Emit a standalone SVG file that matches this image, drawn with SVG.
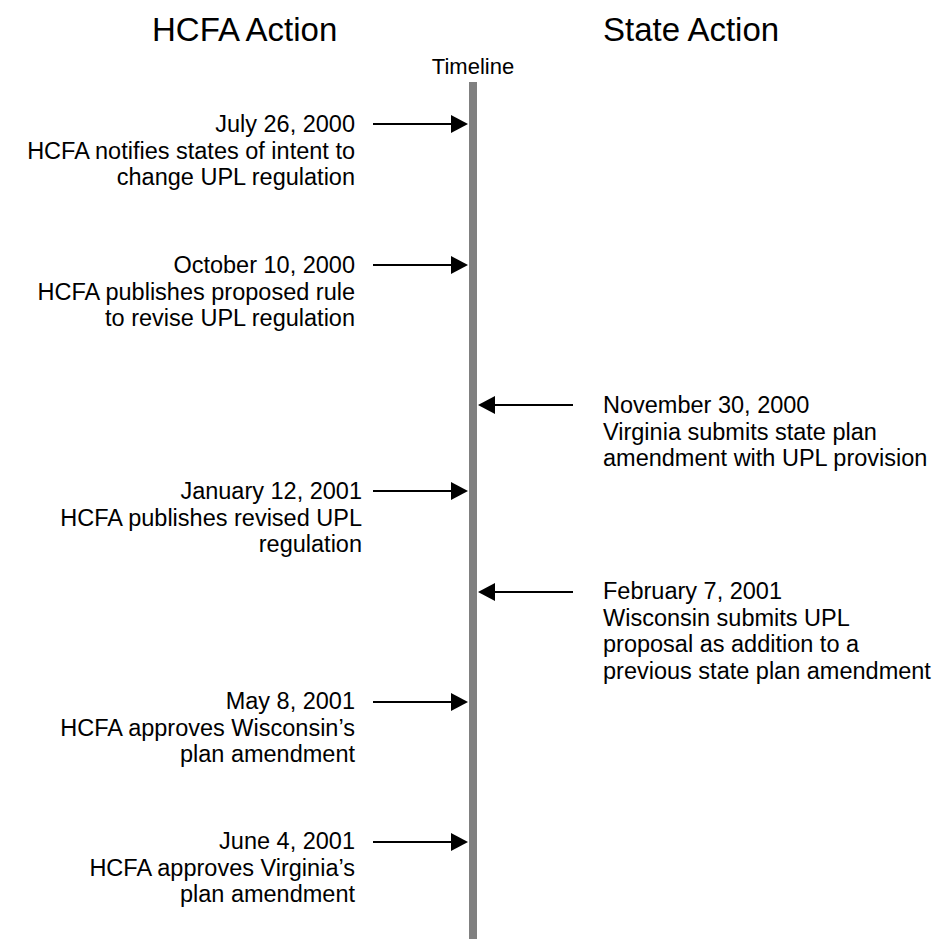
<svg xmlns="http://www.w3.org/2000/svg" width="946" height="939" viewBox="0 0 946 939">
<style>
text{font-family:"Liberation Sans",Arial,Helvetica,sans-serif;fill:#000}
.title{font-size:33px}
.tl{font-size:22px;text-anchor:middle}
.l{font-size:23.5px;text-anchor:end}
.r{font-size:23.5px;text-anchor:start}
.ln{stroke:#000;stroke-width:2;fill:none}
.hd{fill:#000}
</style>
<rect width="946" height="939" fill="#fff"/>
<g id="headers">
<text class="title" x="152" y="41">HCFA Action</text>
<text class="title" x="603" y="41">State Action</text>
</g>
<g id="timeline">
<text class="tl" x="473" y="74">Timeline</text>
<rect x="469" y="82" width="8" height="857" fill="#808080"/>
</g>
<g id="connectors">
<line class="ln" x1="373" y1="124" x2="455" y2="124"/><polygon class="hd" points="451,115 468,124 451,133"/>
<line class="ln" x1="373" y1="265" x2="455" y2="265"/><polygon class="hd" points="451,256 468,265 451,274"/>
<line class="ln" x1="573" y1="405" x2="491" y2="405"/><polygon class="hd" points="495,396 478,405 495,414"/>
<line class="ln" x1="373" y1="491" x2="455" y2="491"/><polygon class="hd" points="451,482 468,491 451,500"/>
<line class="ln" x1="573" y1="592" x2="491" y2="592"/><polygon class="hd" points="495,583 478,592 495,601"/>
<line class="ln" x1="373" y1="702" x2="455" y2="702"/><polygon class="hd" points="451,693 468,702 451,711"/>
<line class="ln" x1="373" y1="842" x2="455" y2="842"/><polygon class="hd" points="451,833 468,842 451,851"/>
</g>
<g id="e1"><text class="l" x="355" y="132">July 26, 2000</text><text class="l" x="355" y="158.5">HCFA notifies states of intent to</text><text class="l" x="355" y="185">change UPL regulation</text></g>
<g id="e2"><text class="l" x="355" y="273">October 10, 2000</text><text class="l" x="355" y="299.5">HCFA publishes proposed rule</text><text class="l" x="355" y="326">to revise UPL regulation</text></g>
<g id="e3"><text class="r" x="603" y="413">November 30, 2000</text><text class="r" x="603" y="439.5">Virginia submits state plan</text><text class="r" x="603" y="466">amendment with UPL provision</text></g>
<g id="e4"><text class="l" x="362" y="499">January 12, 2001</text><text class="l" x="362" y="525.5">HCFA publishes revised UPL</text><text class="l" x="362" y="552">regulation</text></g>
<g id="e5"><text class="r" x="603" y="599">February 7, 2001</text><text class="r" x="603" y="625.5">Wisconsin submits UPL</text><text class="r" x="603" y="652">proposal as addition to a</text><text class="r" x="603" y="678.5">previous state plan amendment</text></g>
<g id="e6"><text class="l" x="355" y="709">May 8, 2001</text><text class="l" x="355" y="735.5">HCFA approves Wisconsin’s</text><text class="l" x="355" y="762">plan amendment</text></g>
<g id="e7"><text class="l" x="355" y="849">June 4, 2001</text><text class="l" x="355" y="875.5">HCFA approves Virginia’s</text><text class="l" x="355" y="902">plan amendment</text></g>
</svg>
